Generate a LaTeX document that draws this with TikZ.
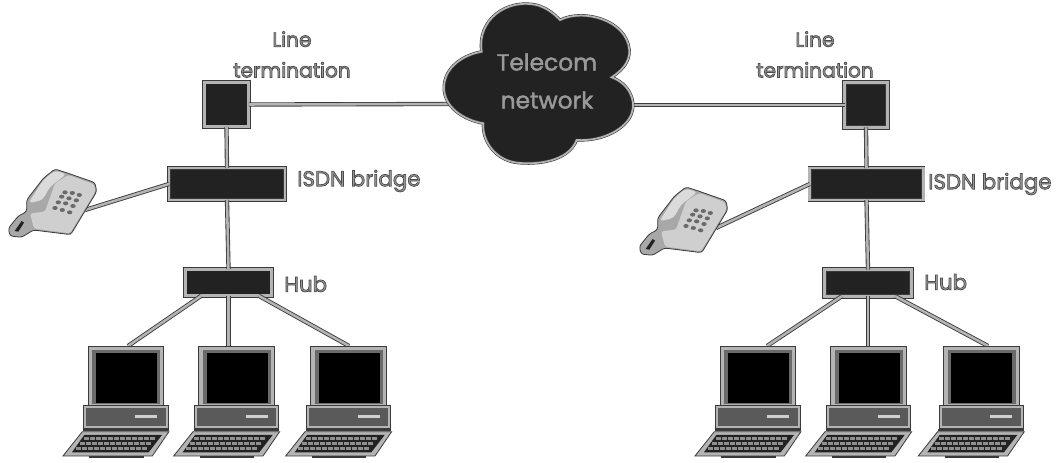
\documentclass[tikz,border=0pt]{standalone}
\usepackage{fontspec}
\setmainfont{Poppins}
\definecolor{ink}{HTML}{222222}
\definecolor{edge}{HTML}{3A3A3A}
\definecolor{band}{HTML}{B4B4B4}
\definecolor{labelgray}{HTML}{999999}
\definecolor{phonebody}{HTML}{CFCFCF}
\definecolor{phonedark}{HTML}{A8A8A8}
\definecolor{keypad}{HTML}{6A6A6A}
\newcommand{\outl}[1]{\special{pdf: code 2 Tr 0.55 w 0.3 0.3 0.3 RG}#1\special{pdf: code 0 Tr}}
\newcommand{\outlc}[1]{\special{pdf: code 2 Tr 0.3 w 0.6 0.6 0.6 RG}#1\special{pdf: code 0 Tr}}
\tikzset{
  x=0.75pt,y=-0.75pt,
  devbox/.style={rectangle,draw=edge,double=band,double distance=2.2pt,line width=0.6pt,fill=ink,inner sep=0pt,outer sep=0pt},
  wire/.style={draw=edge,double=band,double distance=1.9pt,line width=0.65pt},
  lbl/.style={font=\fontsize{15.1}{23}\selectfont,text=labelgray,inner sep=0pt,align=center},
  lblbig/.style={lbl,anchor=west,font=\fontsize{16}{23}\selectfont},
  cloudtxt/.style={font=\fontsize{17.5}{28.5}\selectfont,text=labelgray,inner sep=0pt,align=center},
  computer/.pic={
    \begin{scope}[x=0.25pt,y=-0.25pt]
      \fill[edge] (87,378) rectangle (250,384);
      \filldraw[fill=band,draw=edge,line width=.6pt] (83,48) rectangle (310,226);
      \fill[keypad] (96,60) rectangle (300,222);
      \fill[black] (107,70) rectangle (290,218);
      \filldraw[fill=band,draw=edge,line width=.6pt] (70,226) rectangle (323,296);
      \fill[keypad!85!black] (78,235) rectangle (316,287);
      \fill[phonebody] (224,256) rectangle (290,265);
      \fill[edge] (68,296) rectangle (325,303);
      \filldraw[fill=band,draw=edge,line width=.6pt] (66,305) -- (326,305) -- (276,378) -- (8,378) -- cycle;
      \fill[ink] (72,315) -- (305,315) -- (265,367) -- (35,367) -- cycle;
      \foreach \r/\s/\n in {0/70/11,1/58/11,2/46/11}
        \foreach \k in {0,...,\n}
          \fill[keypad!75!white] ({\s+\k*18},{320+\r*15}) rectangle +(15,11);
    \end{scope}
    \coordinate (-top) at (0,0);
  },
  telephone/.pic={
    \begin{scope}[x=0.25pt,y=-0.25pt]
      \filldraw[fill=phonedark,draw=edge,line width=.6pt,rounded corners=2pt]
        (165,57) -- (205,70) -- (285,98) -- (290,125) -- (212,254) -- (100,240)
        -- (65,262) -- (30,258) -- (25,235) -- (55,198) -- (80,185) -- (80,150) -- (130,85) -- cycle;
      \fill[phonebody,rounded corners=2pt] (205,75) -- (282,103) -- (286,125) -- (210,250) -- (102,236) -- (90,190) -- (135,185) -- (165,100) -- cycle;
      \fill[phonebody!75!white,rounded corners=3pt] (163,62) -- (200,72) -- (150,110) -- (128,150) -- (85,160) -- (130,90) -- cycle;
      \fill[ink] (44,243) -- (65,213) -- (72,218) -- (55,245) -- cycle;
      \foreach \px/\py in {195/127,217/129,238/135,185/140,207/145,229/151,175/157,197/160,219/168,165/174,187/180,209/187}
        \fill[keypad] (\px,\py) ellipse (8 and 6);
    \end{scope}
  },
}
\begin{document}
\begin{tikzpicture}
\useasboundingbox (0,0) rectangle (1058,463);

% devices
\node[devbox,minimum width=33.5pt,minimum height=33.5pt] (ltL) at (226.5,104.5) {};
\node[devbox,minimum width=87pt,minimum height=24pt] (brL) at (227,184) {};
\node[devbox,minimum width=65pt,minimum height=20pt] (hubL) at (228.5,282.5) {};
\node[devbox,minimum width=32pt,minimum height=33.5pt] (ltR) at (866,105) {};
\node[devbox,minimum width=85pt,minimum height=24pt] (brR) at (866.5,184) {};
\node[devbox,minimum width=65pt,minimum height=20pt] (hubR) at (868,283) {};

% computers and telephones
\coordinate (cL1) at (128,346); \coordinate (cL2) at (228.5,346); \coordinate (cL3) at (349,346);
\coordinate (cR1) at (767,346); \coordinate (cR2) at (868,346); \coordinate (cR3) at (988,346);
\coordinate (jackL) at (85,210); \coordinate (jackR) at (716,228);
\coordinate (cloudW) at (452,104); \coordinate (cloudE) at (632,105);

% wires
\draw[wire] (ltL.south) -- (brL.north);
\draw[wire] (brL.south) -- (hubL.north);
\draw[wire] (ltR.south) -- (brR.north);
\draw[wire] (brR.south) -- (hubR.north);
\draw[wire] (hubL.south west) ++(16,0) -- (cL1);
\draw[wire] (hubL.south) -- (cL2);
\draw[wire] (hubL.south east) ++(-13,0) -- (cL3);
\draw[wire] (hubR.south west) ++(17,0) -- (cR1);
\draw[wire] (hubR.south) -- (cR2);
\draw[wire] (hubR.south east) ++(-16,0) -- (cR3);
\draw[wire] (jackL) -- (brL.west);
\draw[wire] (jackR) -- (brR.west);
\draw[wire] (ltL.east) -- (cloudW);
\draw[wire] (ltR.west) -- (cloudE);

\foreach \nm/\ox in {a/60.3,b/171,c/283,d/692.3,e/803,f/915.6}
  \pic (\nm) at (\ox,330) {computer};
\pic (phoneL) at (0,150) {telephone};
\pic (phoneR) at (631,168) {telephone};

% cloud
\begin{scope}[shift={(315pt,0pt)},x=0.25pt,y=-0.25pt]
\filldraw[fill=ink,draw=edge,double=band,double distance=1.3pt,line width=.45pt]
  (185,155) .. controls (170,60) and (260,-5) .. (350,15)
  .. controls (385,25) and (405,45) .. (420,60)
  .. controls (490,25) and (620,60) .. (628,150)
  .. controls (630,190) and (600,215) .. (575,232)
  .. controls (625,250) and (650,300) .. (635,340)
  .. controls (620,385) and (550,425) .. (470,420)
  .. controls (445,485) and (350,495) .. (290,488)
  .. controls (225,480) and (185,420) .. (190,370)
  .. controls (130,360) and (70,320) .. (72,260)
  .. controls (75,200) and (130,165) .. (185,155) -- cycle;
\end{scope}
\node[cloudtxt] (cloud) at (547,81) {\outlc{Telecom}\\\outlc{network}};

% labels
\node[lbl] (tLL) at (292,54.5) {\outl{Line}\\\outl{termination}};
\node[lbl] (tLR) at (815,54.5) {\outl{Line}\\\outl{termination}};
\node[lblbig] (tBL) at (297,181) {\outl{ISDN bridge}};
\node[lblbig] (tBR) at (928,184) {\outl{ISDN bridge}};
\node[lblbig] (tHL) at (284,284) {\outl{Hub}};
\node[lblbig] (tHR) at (924,282) {\outl{Hub}};
\end{tikzpicture}
\end{document}
